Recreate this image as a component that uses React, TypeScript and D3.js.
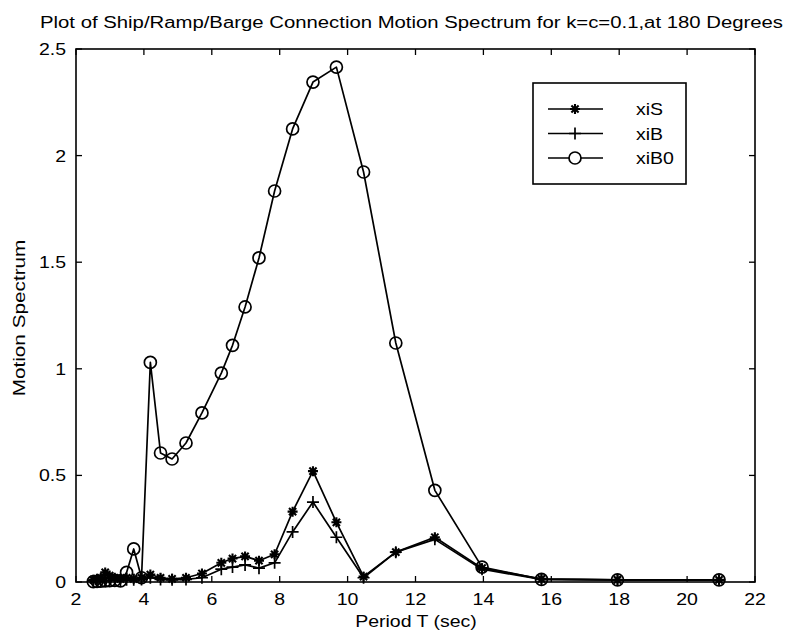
import { useEffect, useRef } from 'react';
import * as d3 from 'd3';

// Periods (sec) shared by all three series
const periods = [
  2.51, 2.62, 2.73, 2.86, 2.99, 3.14, 3.31, 3.49, 3.7, 3.93, 4.19, 4.49, 4.83, 5.24, 5.71,
  6.28, 6.61, 6.98, 7.39, 7.85, 8.38, 8.98, 9.67, 10.47, 11.42, 12.57, 13.96, 15.71, 17.95, 20.94,
];

const xiS = [
  0.01, 0.015, 0.02, 0.045, 0.03, 0.02, 0.015, 0.02, 0.015, 0.02, 0.035, 0.02, 0.015, 0.02, 0.04,
  0.09, 0.11, 0.12, 0.1, 0.13, 0.33, 0.52, 0.28, 0.025, 0.14, 0.21, 0.065, 0.015, 0.01, 0.01,
];

const xiB = [
  0.005, 0.008, 0.01, 0.02, 0.015, 0.01, 0.008, 0.01, 0.01, 0.012, 0.02, 0.012, 0.01, 0.012, 0.02,
  0.06, 0.07, 0.08, 0.065, 0.09, 0.235, 0.375, 0.21, 0.02, 0.14, 0.2, 0.06, 0.012, 0.01, 0.01,
];

const xiB0 = [
  0.002, 0.003, 0.004, 0.005, 0.006, 0.008, 0.005, 0.045, 0.155, 0.02, 1.03, 0.605, 0.577, 0.652, 0.793,
  0.98, 1.11, 1.29, 1.52, 1.834, 2.125, 2.345, 2.415, 1.923, 1.121, 0.43, 0.07, 0.012, 0.01, 0.01,
];

const seriesNames = ['xiS', 'xiB', 'xiB0'];
const seriesMarkers = ['star', 'plus', 'circle'];
const xTicks = [2, 4, 6, 8, 10, 12, 14, 16, 18, 20, 22];
const yTicks = [0, 0.5, 1, 1.5, 2, 2.5];

const W = 788;
const H = 633;
const FONT = '"Liberation Sans", Arial, Helvetica, sans-serif';
const STRETCH = 1.22; // the scanned lettering is wider than Arial

function markerPath(type: string, cx: number, cy: number) {
  if (type === 'plus') {
    const s = 6;
    return `M${cx - s},${cy}H${cx + s}M${cx},${cy - s}V${cy + s}`;
  }
  if (type === 'star') {
    const s = 5;
    const d = 3.6;
    return (
      `M${cx - s},${cy}H${cx + s}M${cx},${cy - s}V${cy + s}` +
      `M${cx - d},${cy - d}L${cx + d},${cy + d}M${cx - d},${cy + d}L${cx + d},${cy - d}`
    );
  }
  return '';
}

export default function App() {
  const svgRef = useRef<SVGSVGElement>(null);

  useEffect(() => {
    if (!svgRef.current) return;
    const svg = d3.select(svgRef.current);
    svg.selectAll('*').remove();

    const left = 76, right = 755, top = 49, bottom = 582;
    const x = d3.scaleLinear().domain([2, 22]).range([left, right]);
    const y = d3.scaleLinear().domain([0, 2.5]).range([bottom, top]);

    svg.append('rect').attr('width', W).attr('height', H).attr('fill', '#fff');

    // stretched label helper
    const label = (tx: number, ty: number, str: string, anchor = 'start', size = 16, baseline = 'auto') =>
      svg.append('text')
        .attr('transform', `translate(${tx},${ty}) scale(${STRETCH},1)`)
        .attr('text-anchor', anchor)
        .attr('dominant-baseline', baseline)
        .attr('font-size', `${size}px`)
        .attr('font-family', FONT)
        .attr('fill', '#000')
        .text(str);

    // Title
    svg.append('text')
      .attr('x', 40)
      .attr('y', 28)
      .attr('font-size', '16px')
      .attr('font-family', FONT)
      .attr('textLength', 743)
      .attr('lengthAdjust', 'spacingAndGlyphs')
      .attr('fill', '#000')
      .text('Plot of Ship/Ramp/Barge Connection Motion Spectrum for k=c=0.1,at 180 Degrees');

    // Axes box
    svg.append('rect')
      .attr('x', left).attr('y', top)
      .attr('width', right - left).attr('height', bottom - top)
      .attr('fill', 'none').attr('stroke', '#000').attr('stroke-width', 1.6);

    const tl = 6;
    // X ticks (bottom and top, pointing inward)
    xTicks.forEach((t) => {
      const px = x(t);
      svg.append('line').attr('x1', px).attr('x2', px).attr('y1', bottom).attr('y2', bottom - tl)
        .attr('stroke', '#000').attr('stroke-width', 1.3);
      svg.append('line').attr('x1', px).attr('x2', px).attr('y1', top).attr('y2', top + tl)
        .attr('stroke', '#000').attr('stroke-width', 1.3);
      label(px, 605, String(t), 'middle', 16);
    });

    // Y ticks (left and right)
    yTicks.forEach((t) => {
      const py = y(t);
      svg.append('line').attr('x1', left).attr('x2', left + tl).attr('y1', py).attr('y2', py)
        .attr('stroke', '#000').attr('stroke-width', 1.3);
      svg.append('line').attr('x1', right).attr('x2', right - tl).attr('y1', py).attr('y2', py)
        .attr('stroke', '#000').attr('stroke-width', 1.3);
      label(66, py + 6, String(t), 'end', 16);
    });

    // Axis labels
    label(416, 627, 'Period T (sec)', 'middle', 16);

    svg.append('text')
      .attr('transform', `translate(25,318) rotate(-90) scale(${STRETCH},1)`)
      .attr('text-anchor', 'middle')
      .attr('font-size', '17px').attr('font-family', FONT)
      .text('Motion Spectrum');

    // Series
    const allSeries = [xiS, xiB, xiB0];
    const line = d3.line<[number, number]>().x((d) => x(d[0])).y((d) => y(d[1]));

    allSeries.forEach((vals, si) => {
      const pts: [number, number][] = periods.map((p, i) => [p, vals[i]]);
      svg.append('path')
        .datum(pts)
        .attr('d', line)
        .attr('fill', 'none')
        .attr('stroke', '#000')
        .attr('stroke-width', 1.7)
        .attr('stroke-linejoin', 'round');

      const mk = seriesMarkers[si];
      pts.forEach(([p, v]) => {
        if (mk === 'circle') {
          svg.append('circle')
            .attr('cx', x(p)).attr('cy', y(v)).attr('r', 6)
            .attr('fill', 'none').attr('stroke', '#000').attr('stroke-width', 1.7);
        } else {
          svg.append('path')
            .attr('d', markerPath(mk, x(p), y(v)))
            .attr('stroke', '#000').attr('stroke-width', mk === 'star' ? 2.1 : 1.7)
            .attr('fill', 'none');
        }
      });
    });

    // Legend
    svg.append('rect')
      .attr('x', 533).attr('y', 83).attr('width', 153).attr('height', 101)
      .attr('fill', '#fff').attr('stroke', '#000').attr('stroke-width', 1.6);

    seriesNames.forEach((name, i) => {
      const ly = 109 + i * 24.5;
      svg.append('line').attr('x1', 548).attr('x2', 603).attr('y1', ly).attr('y2', ly)
        .attr('stroke', '#000').attr('stroke-width', 1.7);
      const mk = seriesMarkers[i];
      if (mk === 'circle') {
        svg.append('circle').attr('cx', 575).attr('cy', ly).attr('r', 6)
          .attr('fill', '#fff').attr('stroke', '#000').attr('stroke-width', 1.7);
      } else {
        svg.append('path').attr('d', markerPath(mk, 575, ly))
          .attr('stroke', '#000').attr('stroke-width', mk === 'star' ? 2.1 : 1.7).attr('fill', 'none');
      }
      label(636, ly + 6, name, 'start', 16);
    });
  }, []);

  return (
    <div style={{ position: 'absolute', left: 0, top: 0, width: W, height: H }}>
      <svg ref={svgRef} width={W} height={H} style={{ display: 'block' }} />
    </div>
  );
}
